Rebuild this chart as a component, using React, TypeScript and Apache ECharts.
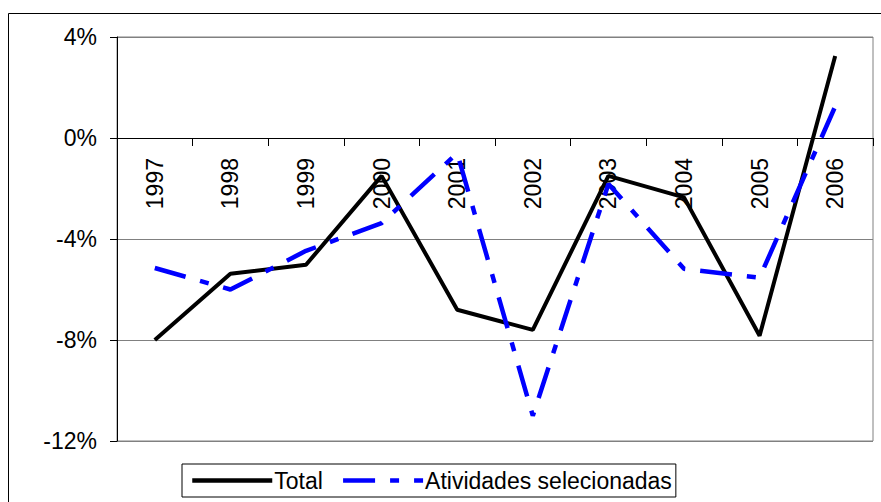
import React, { useEffect, useRef } from "react";
import * as echarts from "echarts";

const years = ["1997", "1998", "1999", "2000", "2001", "2002", "2003", "2004", "2005", "2006"];
const total = [-8.0, -5.38, -5.02, -1.5, -6.8, -7.6, -1.5, -2.35, -7.83, 3.25];
const atividades = [-5.15, -6.0, -4.47, -3.37, -0.6, -11.0, -1.82, -5.18, -5.53, 1.25];
const yTicks = { min: -12, max: 4, interval: 4 };

export default function App() {
  const ref = useRef<HTMLDivElement>(null);
  useEffect(() => {
    if (!ref.current) return;
    const chart = echarts.init(ref.current, null, { renderer: "svg" });
    const font = "Liberation Sans, Arial, sans-serif";
    const gridTop = 37;
    const gridBottomY = 441;
    const zeroY = gridTop + ((gridBottomY - gridTop) * (yTicks.max - 0)) / (yTicks.max - yTicks.min);
    chart.setOption({
      animation: false,
      backgroundColor: "#fff",
      graphic: [
        {
          type: "rect",
          shape: { x: 8.5, y: 13.5, width: 890, height: 500 },
          style: { fill: "none", stroke: "#000", lineWidth: 1 },
          z: -1,
        },
      ],
      grid: {
        left: 117,
        top: gridTop,
        right: 8,
        bottom: 502 - gridBottomY,
        show: true,
        borderColor: "#808080",
        borderWidth: 1,
        outerBoundsMode: "none",
        containLabel: false,
      },
      legend: {
        left: 182,
        top: 464,
        padding: [5, 4, 5, 8],
        itemWidth: 80,
        itemHeight: 14,
        itemGap: 18,
        borderColor: "#000",
        borderWidth: 1,
        backgroundColor: "#fff",
        itemStyle: { opacity: 0 },
        lineStyle: { width: 4.5 },
        textStyle: { fontSize: 23, color: "#000", fontFamily: font, padding: [0, 0, 0, -3] },
        data: ["Total", "Atividades selecionadas"],
      },
      xAxis: {
        type: "category",
        data: years,
        boundaryGap: true,
        position: "bottom",
        offset: -(gridBottomY - zeroY),
        axisLine: { onZero: false, lineStyle: { color: "#000", width: 1 } },
        axisTick: { show: true, length: 8, inside: false, lineStyle: { color: "#000" } },
        axisLabel: {
          rotate: 90,
          margin: 20,
          fontSize: 23,
          color: "#000",
          fontFamily: font,
        },
        splitLine: { show: false },
        z: 1,
      },
      yAxis: {
        type: "value",
        min: yTicks.min,
        max: yTicks.max,
        interval: yTicks.interval,
        axisLine: { show: true, lineStyle: { color: "#000", width: 1 } },
        axisTick: { show: true, length: 7, lineStyle: { color: "#000" } },
        axisLabel: {
          formatter: "{value}%",
          margin: 20,
          fontSize: 23,
          color: "#000",
          fontFamily: font,
        },
        splitLine: { show: true, lineStyle: { color: "#808080", width: 1 } },
      },
      series: [
        {
          name: "Total",
          type: "line",
          data: total,
          symbol: "none",
          lineStyle: { color: "#000", width: 4 },
          itemStyle: { color: "#000" },
          z: 3,
        },
        {
          name: "Atividades selecionadas",
          type: "line",
          data: atividades,
          symbol: "none",
          lineStyle: { color: "#0000ff", width: 4.5, type: [32, 15, 9, 15] },
          itemStyle: { color: "#0000ff" },
          z: 4,
        },
      ],
    });
    return () => chart.dispose();
  }, []);
  return (
    <div
      ref={ref}
      style={{ position: "fixed", left: 0, top: 0, width: 881, height: 502 }}
    />
  );
}
